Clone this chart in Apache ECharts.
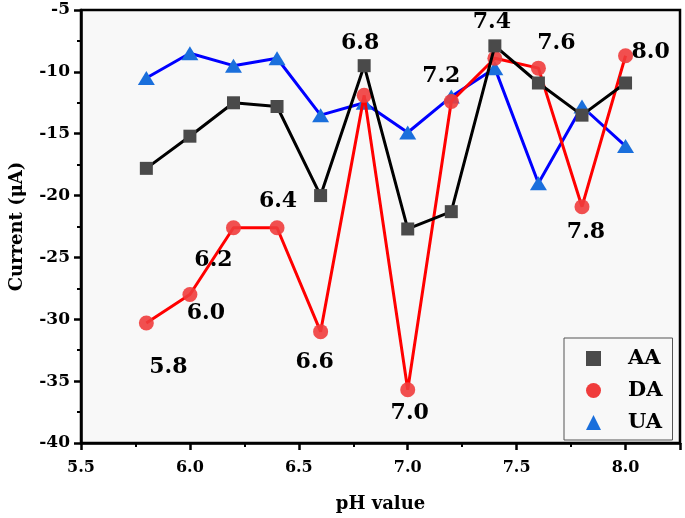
<!DOCTYPE html>
<html>
<head>
<meta charset="utf-8">
<script src="https://cdn.jsdelivr.net/npm/echarts@6/dist/echarts.min.js"></script>
<style>
html,body{margin:0;padding:0;background:#fff;}
#chart{width:685px;height:518px;}
</style>
</head>
<body>
<div id="chart"></div>
<script>
// ---- data ----
const phValues = [5.8, 6.0, 6.2, 6.4, 6.6, 6.8, 7.0, 7.2, 7.4, 7.6, 7.8, 8.0];
const aaCurrent = [-17.8, -15.2, -12.5, -12.8, -20.0, -9.5, -22.7, -21.3, -7.9, -10.9, -13.5, -10.9];
const daCurrent = [-30.3, -28.0, -22.6, -22.6, -31.0, -11.9, -35.7, -12.4, -8.9, -9.7, -20.9, -8.7];
const uaCurrent = [-10.5, -8.5, -9.5, -8.9, -13.5, -12.5, -14.9, -12.0, -9.7, -19.0, -12.8, -16.0];
const pointLabels = ['5.8', '6.0', '6.2', '6.4', '6.6', '6.8', '7.0', '7.2', '7.4', '7.6', '7.8', '8.0'];
const seriesNames = ['AA', 'DA', 'UA'];
const xAxisRange = [5.5, 8.25];
const yAxisRange = [-40, -5];

// ---- style (label placement relative to DA points, px) ----
const labelOffsets = [[22, 44], [16, 19], [-20, 33], [1, -26], [-6, 31], [-4, -52],
                      [2, 23], [-10, -25], [-3, -36], [18, -25], [4, 26], [25, -3]];

const FONT = '"DejaVu Serif", "Liberation Serif", serif';

function pairs(ys) { return phValues.map((x, i) => [x, ys[i]]); }

const chart = echarts.init(document.getElementById('chart'), null, {renderer: 'canvas'});

const option = {
  backgroundColor: '#ffffff',
  animation: false,
  grid: {
    left: 78, top: 10, right: 5, bottom: 75,
    show: true, backgroundColor: '#f8f8f8', borderColor: '#000', borderWidth: 2.5
  },
  xAxis: {
    type: 'value', min: xAxisRange[0], max: xAxisRange[1], interval: 0.5,
    name: 'pH value', nameLocation: 'middle', nameGap: 52,
    nameTextStyle: {fontFamily: FONT, fontWeight: 'bold', fontSize: 18, color: '#000'},
    axisLine: {lineStyle: {color: '#000', width: 2.5}},
    axisTick: {inside: false, length: 7, lineStyle: {color: '#000', width: 2.5}},
    minorTick: {show: true, splitNumber: 2, length: 4, lineStyle: {color: '#000', width: 2}},
    splitLine: {show: false},
    axisLabel: {
      fontFamily: FONT, fontWeight: 'bold', fontSize: 16, color: '#000', margin: 17,
      formatter: v => (Math.abs(v * 2 - Math.round(v * 2)) < 1e-6 && v <= 8.01) ? v.toFixed(1) : ''
    }
  },
  yAxis: {
    type: 'value', min: yAxisRange[0], max: yAxisRange[1], interval: 5,
    name: 'Current (μA)', nameLocation: 'middle', nameGap: 55, nameRotate: 90,
    nameTextStyle: {fontFamily: FONT, fontWeight: 'bold', fontSize: 18, color: '#000'},
    axisLine: {lineStyle: {color: '#000', width: 2.5}},
    axisTick: {inside: false, length: 7, lineStyle: {color: '#000', width: 2.5}},
    minorTick: {show: true, splitNumber: 2, length: 4, lineStyle: {color: '#000', width: 2}},
    splitLine: {show: false},
    axisLabel: {fontFamily: FONT, fontWeight: 'bold', fontSize: 17, color: '#000', margin: 11}
  },
  legend: {
    orient: 'vertical', left: 564, top: 338, width: 106,
    padding: [10, 10, 7, 22], itemGap: 11,
    backgroundColor: 'rgba(255,255,255,0)', borderColor: '#555', borderWidth: 1,
    itemWidth: 15, itemHeight: 15,
    data: [
      {name: 'AA', icon: 'rect', itemStyle: {color: '#4a4a4a'}},
      {name: 'DA', icon: 'circle', itemStyle: {color: '#f03c3c'}},
      {name: 'UA', icon: 'triangle', itemStyle: {color: '#1a6fdc'}}
    ],
    textStyle: {fontFamily: FONT, fontWeight: 'bold', fontSize: 21, color: '#000', padding: [0, 0, 0, 22]}
  },
  series: [
    {
      name: seriesNames[2], type: 'line', z: 2, data: pairs(uaCurrent),
      symbol: 'triangle', symbolSize: [17, 14],
      lineStyle: {color: '#0000ff', width: 3},
      itemStyle: {color: '#1a6fdc', opacity: 1}
    },
    {
      name: seriesNames[1], type: 'line', z: 3, data: pairs(daCurrent),
      symbol: 'circle', symbolSize: 15,
      lineStyle: {color: '#ff0000', width: 3},
      itemStyle: {color: 'rgba(240,60,60,0.9)'}
    },
    {
      name: seriesNames[0], type: 'line', z: 4, data: pairs(aaCurrent),
      symbol: 'rect', symbolSize: 13,
      lineStyle: {color: '#000', width: 3},
      itemStyle: {color: '#4a4a4a'}
    },
    {
      name: 'labels', type: 'scatter', z: 10, silent: true,
      symbolSize: 2, itemStyle: {color: 'rgba(0,0,0,0)'},
      data: phValues.map((x, i) => ({
        value: [x, daCurrent[i]],
        label: {
          show: true, position: 'inside', offset: labelOffsets[i],
          formatter: pointLabels[i], opacity: 1,
          textBorderWidth: 0, textBorderColor: 'transparent',
          fontFamily: FONT, fontWeight: 'bold', fontSize: 22, color: '#000000'
        }
      }))
    }
  ]
};
chart.setOption(option);
</script>
</body>
</html>
